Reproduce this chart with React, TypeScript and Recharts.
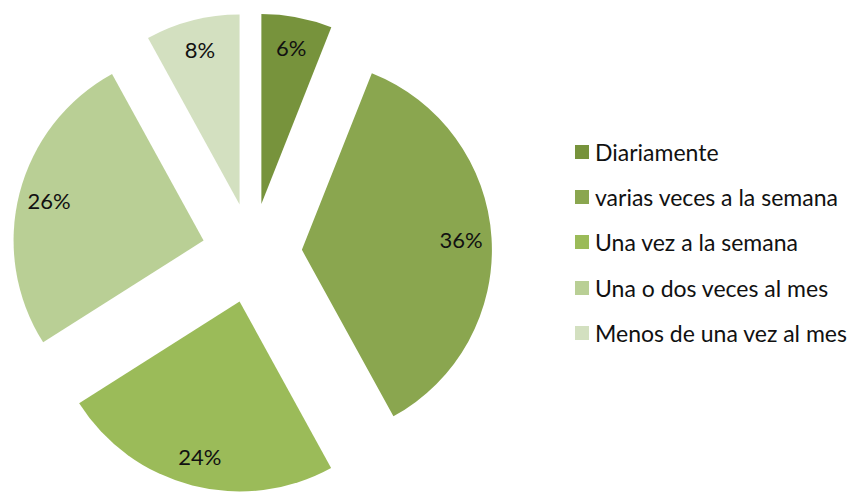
import { Cell, Legend, Pie, PieChart, Sector } from 'recharts';

const categories = [
    'Diariamente',
    'varias veces a la semana',
    'Una vez a la semana',
    'Una o dos veces al mes',
    'Menos de una vez al mes',
];
const shares = [6, 36, 24, 26, 8];

// Excel "Olive Green" monochrome shades, darkest first.
const COLORS = ['#77933c', '#8aa64f', '#9bbb59', '#b9cf95', '#d3e0c0'];

const FONT = 'Lato, "Open Sans", sans-serif';
const EXPLODE = 50;
const RAD = Math.PI / 180;

const data = categories.map((name, i) => ({ name, value: shares[i] }));

function shift(midAngle: number, dist: number) {
    return { dx: dist * Math.cos(midAngle * RAD), dy: -dist * Math.sin(midAngle * RAD) };
}

function ExplodedSector(props: any) {
    const { dx, dy } = shift(props.midAngle, EXPLODE);
    return <Sector {...props} cx={props.cx + dx} cy={props.cy + dy} stroke="none" />;
}

function renderLabel(props: any) {
    const { cx, cy, midAngle, outerRadius, percent } = props;
    const p = shift(midAngle, EXPLODE + outerRadius * 0.84);
    return (
        <text
            x={cx + p.dx} y={cy + p.dy}
            textAnchor="middle" dominantBaseline="central"
            fill="#111" fontSize={22} fontFamily={FONT}
        >
            {`${Math.round(percent * 100)}%`}
        </text>
    );
}

// keep the legend in data order (recharts sorts legend items by default)
function LegendList() {
    return (
        <div style={{ fontFamily: FONT, fontSize: 23, color: '#111' }}>
            {categories.map((name, i) => (
                <div key={name} style={{ display: 'flex', alignItems: 'center', height: 45.4, whiteSpace: 'nowrap' }}>
                    <span style={{ width: 14, height: 14, background: COLORS[i], marginRight: 6, flex: 'none' }} />
                    {name}
                </div>
            ))}
        </div>
    );
}

export default function App() {
    return (
        <div style={{ position: 'absolute', left: 0, top: 0, width: 851, height: 493, background: '#fff' }}>
            <PieChart width={851} height={493} margin={{ top: 0, right: 0, bottom: 0, left: 0 }}>
                <Pie
                    data={data} dataKey="value" nameKey="name"
                    cx={252} cy={253} outerRadius={190}
                    startAngle={90} endAngle={-270}
                    stroke="none"
                    shape={ExplodedSector}
                    activeShape={ExplodedSector}
                    inactiveShape={ExplodedSector}
                    label={renderLabel} labelLine={false}
                    isAnimationActive={false}
                >
                    {data.map((d, i) => <Cell key={d.name} fill={COLORS[i]} />)}
                </Pie>
                <Legend
                    layout="vertical" align="right" verticalAlign="middle"
                    content={LegendList}
                    wrapperStyle={{ left: 575, top: 129, width: 280 }}
                />
            </PieChart>
        </div>
    );
}
